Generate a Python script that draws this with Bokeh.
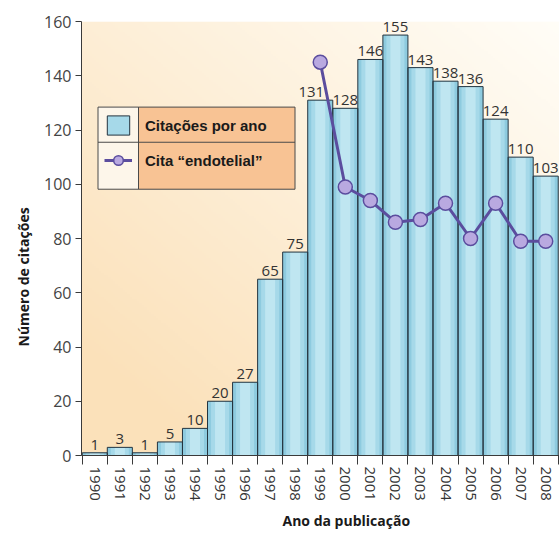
import math
import numpy as np
from bokeh.plotting import figure
from bokeh.models import (ColumnDataSource, LabelSet, Legend, LegendItem, FixedTicker,
                          BoxAnnotation, Title, Range1d)
from bokeh.core.properties import value
from bokeh.embed import file_html
from bokeh.resources import INLINE

# --- data ---------------------------------------------------------------
years = list(range(1990, 2009))
citations = [1, 3, 1, 5, 10, 20, 27, 65, 75, 131, 128, 146, 155, 143, 138, 136, 124, 110, 103]
endo_years = list(range(1999, 2009))
endo_citations = [145, 99, 94, 86, 87, 93, 80, 93, 79, 79]
y_ticks = [0, 20, 40, 60, 80, 100, 120, 140, 160]

# --- canvas geometry (px) -----------------------------------------------
W, H = 559, 534
LEFT, TOP, BOTTOM = 81, 21, 77
X0, X1 = 1989.47, 2008.55
Y0, Y1 = 0, 160
frame_w = W - LEFT
frame_h = H - TOP - BOTTOM


def px_x(px):
    return X0 + (px - LEFT) / frame_w * (X1 - X0)


def px_y(py):
    return Y0 + (H - BOTTOM - py) / frame_h * (Y1 - Y0)


TEXT_FONT = "Open Sans"
AXIS_COLOR = "#3a3a3a"

p = figure(width=W, height=H, x_range=Range1d(X0, X1), y_range=Range1d(Y0, Y1),
           output_backend="svg", toolbar_location=None,
           min_border_left=LEFT, min_border_right=0,
           min_border_top=TOP, min_border_bottom=BOTTOM)
p.outline_line_color = None
p.grid.visible = False
p.background_fill_color = "white"
p.border_fill_color = "white"

# warm diagonal wash behind the bars
ny, nx = 200, 200
xf = np.linspace(0, 1, nx)[None, :]
yf = np.linspace(0, 1, ny)[:, None]
t = np.clip(0.55 * (1 - xf) + 0.6 * (1 - yf), 0, 1)
light = np.array([255, 253, 247], dtype=float)
peach = np.array([251, 225, 186], dtype=float)
rgb = light + (peach - light) * t[..., None]
img = np.empty((ny, nx), dtype=np.uint32)
view = img.view(dtype=np.uint8).reshape((ny, nx, 4))
view[..., 0:3] = np.round(rgb).astype(np.uint8)
view[..., 3] = 255
p.image_rgba(image=[img], x=X0, y=Y0, dw=X1 - X0, dh=Y1 - Y0)

# --- bars (layered fills give a rounded, glassy look) ---------------------
src = ColumnDataSource(dict(year=years, n=citations,
                            label=[str(v) for v in citations],
                            dx=[-9 if y == 1999 else 0 for y in years]))
p.vbar(x="year", top="n", width=1, source=src, fill_color="#8ecbdf", line_color=None)
bar_mid = p.vbar(x="year", top="n", width=0.72, source=src, fill_color="#a6d9e9", line_color=None)
p.vbar(x="year", top="n", width=0.4, source=src, fill_color="#bfe6f1", line_color=None)
bar_edge = p.vbar(x="year", top="n", width=1, source=src, fill_alpha=0,
                  line_color="#24343f", line_width=1)

# --- "endotelial" series ---------------------------------------------------
esrc = ColumnDataSource(dict(year=endo_years, n=endo_citations))
ln = p.line("year", "n", source=esrc, line_color="#5b4d9e", line_width=3)
pts = p.scatter("year", "n", source=esrc, size=14, fill_color="#b9a9e0",
                line_color="#5b4d9e", line_width=1.5)

# value labels above each bar
p.add_layout(LabelSet(x="year", y="n", text="label", source=src, x_offset="dx", y_offset=3,
                      text_align="center", text_baseline="bottom",
                      text_font=value(TEXT_FONT), text_font_size=value("15px"),
                      text_color="#333333"))

# --- axes ---------------------------------------------------------------
xa = p.xaxis[0]
xa.ticker = FixedTicker(ticks=years,
                        minor_ticks=[y - 0.5 for y in years] + [years[-1] + 0.5])
xa.major_tick_out = 9
xa.major_tick_in = 0
xa.major_tick_line_color = None
xa.minor_tick_out = 9
xa.minor_tick_in = 0
xa.minor_tick_line_color = AXIS_COLOR
xa.axis_line_color = AXIS_COLOR
xa.major_label_orientation = -math.pi / 2
xa.major_label_standoff = 2
xa.major_label_text_font = TEXT_FONT
xa.major_label_text_font_size = "15px"
xa.major_label_text_color = "#333333"

ya = p.yaxis[0]
ya.ticker = FixedTicker(ticks=y_ticks)
ya.minor_tick_line_color = None
ya.major_tick_out = 6
ya.major_tick_in = 0
ya.major_tick_line_color = AXIS_COLOR
ya.axis_line_color = AXIS_COLOR
ya.major_label_standoff = 4
ya.major_label_text_font = TEXT_FONT
ya.major_label_text_font_size = "16px"
ya.major_label_text_color = "#444444"

# axis titles
p.add_layout(Title(text="Ano da publicação", align="left", offset=201,
                   text_font=TEXT_FONT, text_font_size="14px", text_font_style="bold",
                   text_color="#1a1a1a"), "below")
p.add_layout(Title(text="Número de citações", align="left", offset=109, standoff=18,
                   text_font=TEXT_FONT, text_font_size="14px", text_font_style="bold",
                   text_color="#1a1a1a"), "left")

# --- legend: two-tone panel with a real Legend on top ----------------------
lg_l, lg_m, lg_r = 97.5, 138, 294.5
lg_t, lg_d, lg_b = 107, 142.3, 189.5
EDGE = "#4a4a4a"
p.add_layout(BoxAnnotation(left=px_x(lg_l), right=px_x(lg_m), top=px_y(lg_t), bottom=px_y(lg_b),
                           fill_color="#fdf6ea", fill_alpha=1,
                           line_color=EDGE, line_alpha=1, line_width=1))
p.add_layout(BoxAnnotation(left=px_x(lg_m), right=px_x(lg_r), top=px_y(lg_t), bottom=px_y(lg_b),
                           fill_color="#f8c394", fill_alpha=1,
                           line_color=EDGE, line_alpha=1, line_width=1))
p.add_layout(BoxAnnotation(left=px_x(lg_l), right=px_x(lg_r),
                           top=px_y(lg_d - 0.5), bottom=px_y(lg_d + 0.5),
                           fill_color=EDGE, fill_alpha=1, line_alpha=0))

legend = Legend(items=[LegendItem(label="Citações por ano", renderers=[bar_mid, bar_edge]),
                       LegendItem(label="Cita “endotelial”", renderers=[ln, pts])],
                location=(19, 279), orientation="vertical",
                glyph_width=28, glyph_height=24, label_height=24,
                label_standoff=13, spacing=11, padding=4, margin=0,
                border_line_alpha=0, background_fill_alpha=0,
                label_text_font="Liberation Sans", label_text_font_style="bold",
                label_text_font_size="15px", label_text_color="#1a1a1a")
p.add_layout(legend)

open("out.html", "w").write(file_html(p, INLINE))
